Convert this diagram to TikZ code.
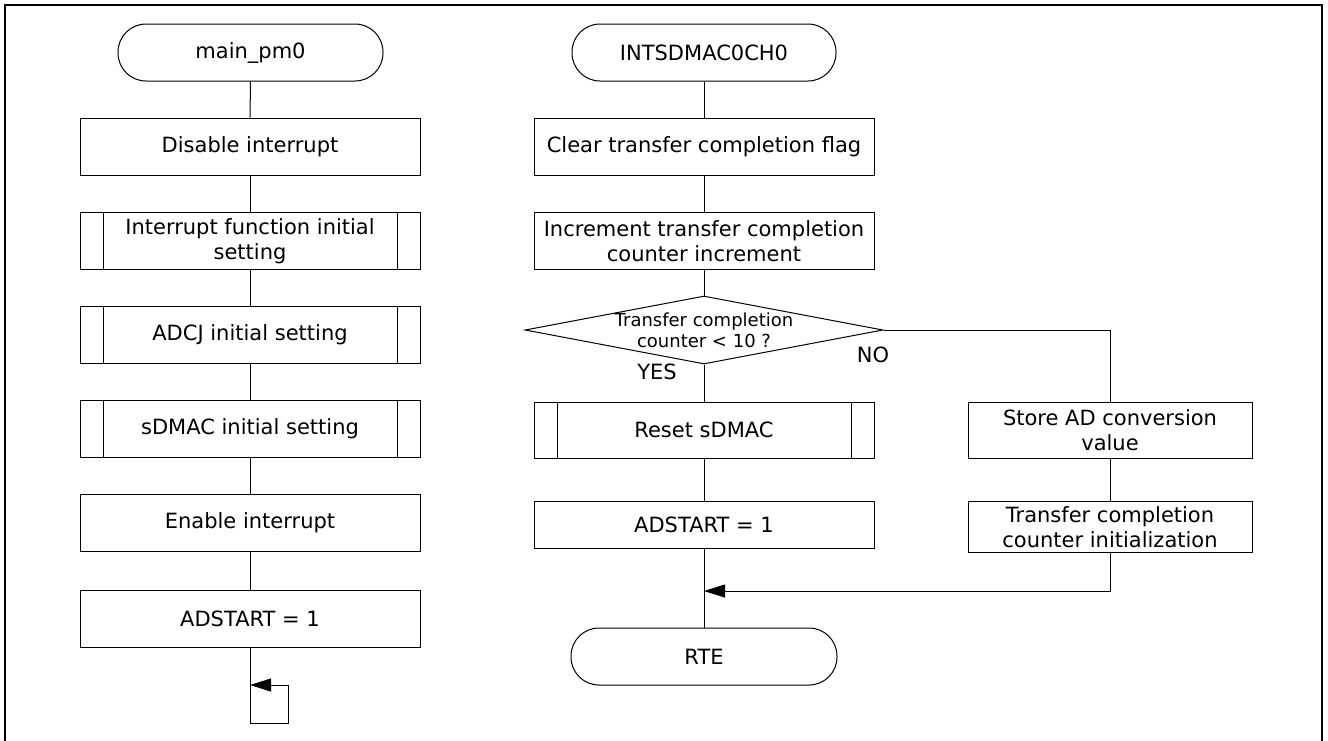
\documentclass[tikz,border=0pt]{standalone}
\usepackage{fontspec}
\setmainfont{DejaVu Sans}
\usetikzlibrary{arrows.meta,shapes.geometric}
\begin{document}
\begin{tikzpicture}[x=1pt,y=-1pt,
  txt/.style={font=\fontsize{21}{25}\selectfont, align=center, inner sep=0pt},
  base/.style={txt, draw, line width=1pt},
  terminal/.style={base, rectangle, rounded corners=28pt, minimum width=265pt, minimum height=57pt},
  process/.style={base, rectangle, minimum width=340pt, minimum height=57pt},
  subproc/.style={process, path picture={
      \draw[line width=1pt]
        ([xshift=23pt]path picture bounding box.north west) -- ([xshift=23pt]path picture bounding box.south west)
        ([xshift=-23pt]path picture bounding box.north east) -- ([xshift=-23pt]path picture bounding box.south east);}},
  decision/.style={draw, line width=1pt, diamond, inner sep=0pt, minimum width=358pt, minimum height=68pt},
  link/.style={line width=1pt},
  arr/.style={link, -{Triangle[length=21pt,width=13pt]}}
]
\useasboundingbox (0,0) rectangle (1328,740);
% outer frame
\draw[line width=2.5pt] (5,745) -- (5,5) -- (1322,5) -- (1322,745);

% ---- main routine ----
\node[terminal] (m0)   at (250.5,52.5) {main\_pm0};
\node[process]  (dis)  at (250,146.5) {Disable interrupt};
\node[subproc]  (intf) at (250,241) {Interrupt function initial\\setting};
\node[subproc]  (adcj) at (250,335) {ADCJ initial setting};
\node[subproc]  (sdm)  at (250,429) {sDMAC initial setting};
\node[process]  (en)   at (250,523) {Enable interrupt};
\node[process]  (ads1) at (250,618.5) {ADSTART = 1};

\draw[link] (m0) -- (dis);
\draw[link] (dis) -- (intf);
\draw[link] (intf) -- (adcj);
\draw[link] (adcj) -- (sdm);
\draw[link] (sdm) -- (en);
\draw[link] (en) -- (ads1);

% endless loop
\coordinate (lpa) at (250,723);
\coordinate (lpb) at (288,685);
\coordinate (lpc) at (250,685);
\draw[arr] (ads1.south) -- (lpa) -| (lpb) -- (lpc);

% ---- interrupt routine ----
\node[terminal, minimum width=264pt] (isr) at (704,52.5) {INTSDMAC0CH0};
\node[process]  (clr)   at (704,146.5) {Clear transfer completion flag};
\node[process]  (inc)   at (704,241) {Increment transfer completion\\counter increment};
\node[decision] (dec)   at (704,330) {};
\node[txt, font=\fontsize{18}{21}\selectfont] (dectx) at (704,330) {Transfer completion\\counter < 10 ?};
\node[subproc, minimum height=56pt] (rst)  at (704,430) {Reset sDMAC};
\node[process, minimum height=47pt] (ads2) at (704,524.5) {ADSTART = 1};
\node[terminal, minimum width=266pt] (rte) at (704,656.5) {RTE};

\node[process, minimum width=284pt, minimum height=56pt] (store) at (1110,430) {Store AD conversion\\value};
\node[process, minimum width=284pt, minimum height=51pt] (init)  at (1110,527) {Transfer completion\\counter initialization};

\node[txt] (yes) at (657,372) {YES};
\node[txt] (no)  at (873,355) {NO};

\draw[link] (isr) -- (clr);
\draw[link] (clr) -- (inc);
\draw[link] (inc) -- (dec);
\draw[link] (dec) -- (rst);
\draw[link] (rst) -- (ads2);
\draw[link] (ads2) -- (rte);
\draw[link] (dec.east) -| (store.north);
\draw[link] (store) -- (init);
\coordinate (mrg) at (704,591);
\draw[arr] (init.south) |- (mrg);
\end{tikzpicture}
\end{document}
